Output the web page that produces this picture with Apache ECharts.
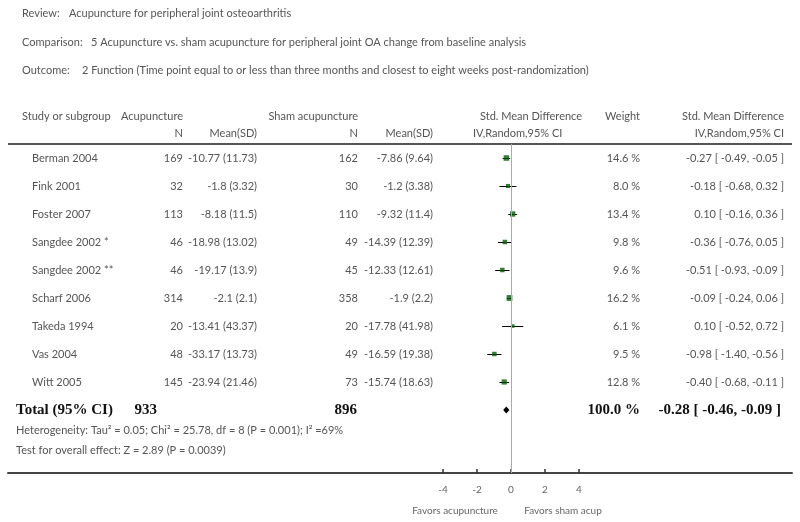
<!DOCTYPE html>
<html><head><meta charset="utf-8">
<script src="https://cdn.jsdelivr.net/npm/echarts@6/dist/echarts.min.js"></script>
<style>html,body{margin:0;padding:0;background:#fff}#c{width:800px;height:522px}</style>
</head><body><div id="c"></div>
<script>
var studies = ['Berman 2004','Fink 2001','Foster 2007','Sangdee 2002 *','Sangdee 2002 **','Scharf 2006','Takeda 1994','Vas 2004','Witt 2005'];
var acuN = [169,32,113,46,46,314,20,48,145];
var acuMean = [-10.77,-1.8,-8.18,-18.98,-19.17,-2.1,-13.41,-33.17,-23.94];
var acuSD = [11.73,3.32,11.5,13.02,13.9,2.1,43.37,13.73,21.46];
var shamN = [162,30,110,49,45,358,20,49,73];
var shamMean = [-7.86,-1.2,-9.32,-14.39,-12.33,-1.9,-17.78,-16.59,-15.74];
var shamSD = [9.64,3.38,11.4,12.39,12.61,2.2,41.98,19.38,18.63];
var weights = [14.6,8.0,13.4,9.8,9.6,16.2,6.1,9.5,12.8];
var smd = [-0.27,-0.18,0.10,-0.36,-0.51,-0.09,0.10,-0.98,-0.40];
var ciLow = [-0.49,-0.68,-0.16,-0.76,-0.93,-0.24,-0.52,-1.40,-0.68];
var ciHigh = [-0.05,0.32,0.36,0.05,-0.09,0.06,0.72,-0.56,-0.11];
var totalAcuN = 933, totalShamN = 896, totalWeight = 100.0;
var totalSmd = -0.28, totalLow = -0.46, totalHigh = -0.09;
var xTicks = [-4,-2,0,2,4];
var heterogeneity = 'Heterogeneity: Tau\u00B2 = 0.05; Chi\u00B2 = 25.78, df = 8 (P = 0.001); I\u00B2 =69%';
var overallTest = 'Test for overall effect: Z = 2.89 (P = 0.0039)';
var review = 'Acupuncture for peripheral joint osteoarthritis';
var comparison = '5 Acupuncture vs. sham acupuncture for peripheral joint OA change from baseline analysis';
var outcome = '2 Function (Time point equal to or less than three months and closest to eight weeks post-randomization)';

var FONT = 'Lato, "Open Sans", sans-serif';
var TXT = '#555';
var chart = echarts.init(document.getElementById('c'), null, {renderer:'canvas'});

var ciData = studies.map(function(s,i){return [ciLow[i], ciHigh[i], i];});
var ptData = studies.map(function(s,i){return [smd[i], i, weights[i]];});

chart.setOption({
  animation:false,
  grid:[
    {left:443, right:221, top:144, bottom:49},
    {left:8, right:8, top:144, bottom:49}
  ],
  xAxis:[
    {gridIndex:0, type:'value', position:'bottom', min:xTicks[0], max:xTicks[xTicks.length-1], interval:2,
     axisLine:{show:false, onZero:false}, splitLine:{show:false},
     axisTick:{show:true, inside:true, length:4, lineStyle:{color:'#333', width:1.5}},
     axisLabel:{show:true, margin:12, color:'#666', fontFamily:FONT, fontSize:10}},
    {gridIndex:1, type:'value', position:'bottom', min:0, max:1,
     axisLine:{show:true, onZero:false, lineStyle:{color:'#444', width:2}},
     axisTick:{show:false}, axisLabel:{show:false}, splitLine:{show:false}}
  ],
  yAxis:[
    {gridIndex:0, type:'value', inverse:true, min:-0.5, max:11.25, show:false},
    {gridIndex:1, type:'value', min:0, max:1, show:false}
  ],
  series:[
    {type:'custom', xAxisIndex:0, yAxisIndex:0, data:ciData, silent:true,
     renderItem:function(params, api){
       var a = api.coord([api.value(0), api.value(2)]);
       var b = api.coord([api.value(1), api.value(2)]);
       return {type:'line', shape:{x1:a[0], y1:Math.round(a[1])+0.5, x2:b[0], y2:Math.round(b[1])+0.5}, style:{stroke:'#000', lineWidth:1}};
     },
     markLine:{silent:true, symbol:'none', label:{show:false},
       lineStyle:{color:'#aaa', width:1, type:'solid'}, data:[{xAxis:0}]}
    },
    {type:'scatter', xAxisIndex:0, yAxisIndex:0, data:ptData, symbol:'rect',
     symbolSize:function(v){return 1.45*Math.sqrt(v[2]);},
     itemStyle:{color:'#075a07'}, silent:true},
    {type:'custom', xAxisIndex:0, yAxisIndex:0, data:[[totalLow, totalSmd, totalHigh, 9]], silent:true,
     renderItem:function(params, api){
       var l = api.coord([api.value(0), api.value(3)]);
       var c = api.coord([api.value(1), api.value(3)]);
       var r = api.coord([api.value(2), api.value(3)]);
       var h = 3.5;
       return {type:'polygon', shape:{points:[[l[0],c[1]],[c[0],c[1]-h],[r[0],c[1]],[c[0],c[1]+h]]}, style:{fill:'#000'}};
     }}
  ]
});

function yOf(r){ return chart.convertToPixel({yAxisIndex:0}, r); }
var g = [];
function t(text, x, y, align, opts){
  opts = opts || {};
  g.push({type:'text', x:x, y:y, silent:true, style:{text:text, textAlign:align||'left', textVerticalAlign:'middle',
    fill:opts.fill||TXT, font:opts.font||('11px '+FONT)}});
}
// titles
t('Review:', 22, 13); t(review, 69, 13);
t('Comparison:', 22, 42); t(comparison, 91, 42);
t('Outcome:', 22, 70); t(outcome, 82, 70);
// headers
t('Study or subgroup', 22, 116);
t('Acupuncture', 183, 116, 'right');
t('N', 183, 133, 'right'); t('Mean(SD)', 257, 133, 'right');
t('Sham acupuncture', 358, 116, 'right');
t('N', 358, 133, 'right'); t('Mean(SD)', 433, 133, 'right');
t('Std. Mean Difference', 480, 116);
t('IV,Random,95% CI', 473, 133);
t('Weight', 640, 116, 'right');
t('Std. Mean Difference', 784, 116, 'right');
t('IV,Random,95% CI', 784, 133, 'right');
g.push({type:'line', silent:true, shape:{x1:8, y1:144, x2:792, y2:144}, style:{stroke:'#555', lineWidth:2}});
// rows
studies.forEach(function(s,i){
  var y = yOf(i);
  t(s, 32, y);
  t(String(acuN[i]), 183, y, 'right');
  t(acuMean[i] + ' (' + acuSD[i] + ')', 257, y, 'right');
  t(String(shamN[i]), 358, y, 'right');
  t(shamMean[i] + ' (' + shamSD[i] + ')', 433, y, 'right');
  t(weights[i].toFixed(1) + ' %', 640, y, 'right');
  t(smd[i].toFixed(2) + ' [ ' + ciLow[i].toFixed(2) + ', ' + ciHigh[i].toFixed(2) + ' ]', 784, y, 'right');
});
var yt = yOf(9);
var BF = 'bold 15px "Liberation Serif", "DejaVu Serif", serif';
t('Total (95% CI)', 16, yt, 'left', {font:BF, fill:'#111'});
t(String(totalAcuN), 157, yt, 'right', {font:BF, fill:'#111'});
t(String(totalShamN), 357, yt, 'right', {font:BF, fill:'#111'});
t(totalWeight.toFixed(1) + ' %', 640, yt, 'right', {font:BF, fill:'#111'});
t(totalSmd.toFixed(2) + ' [ ' + totalLow.toFixed(2) + ', ' + totalHigh.toFixed(2) + ' ]', 781, yt, 'right', {font:BF, fill:'#111'});
t(heterogeneity, 16, 430);
t(overallTest, 16, 450);
t('Favors acupuncture', 455, 511, 'center', {font:'10px '+FONT, fill:'#666'});
t('Favors sham acup', 563, 511, 'center', {font:'10px '+FONT, fill:'#666'});
chart.setOption({graphic:g});
</script></body></html>
